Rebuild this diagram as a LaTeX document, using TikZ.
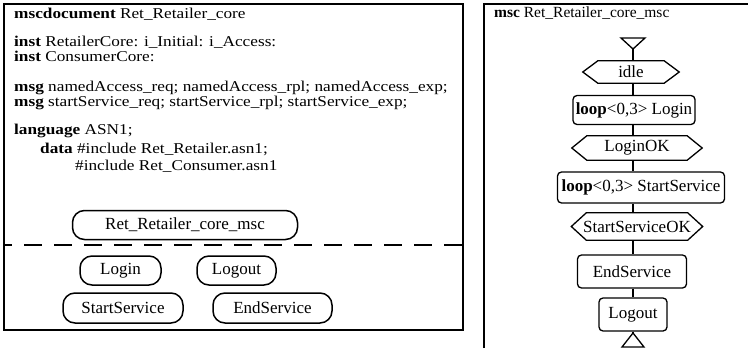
\documentclass[tikz,border=0pt]{standalone}
\usepackage{fontspec}
\setmainfont{Liberation Serif}
\newfontfamily\widefont[FakeStretch=1.15]{Liberation Serif}
\newcommand\hexframe[1]{\draw[conn] (#1.west) -- ([xshift=15pt]#1.north west) -- ([xshift=-15pt]#1.north east) -- (#1.east) -- ([xshift=-15pt]#1.south east) -- ([xshift=15pt]#1.south west) -- cycle;}
\begin{document}
\begin{tikzpicture}[x=1pt,y=-1pt,
  frame/.style={line width=1.1pt},
  lt/.style={anchor=base west, inner sep=0pt, font=\widefont\fontsize{15}{15}\selectfont},
  oval/.style={draw, line width=1.5pt, rounded corners=12pt, minimum height=29pt, inner sep=0pt, font=\fontsize{17}{17}\selectfont},
  rbox/.style={draw, line width=1.3pt, rounded corners=4pt, minimum height=30pt, inner sep=0pt, font=\fontsize{17}{17}\selectfont},
  hexn/.style={minimum height=24pt, inner sep=0pt, font=\fontsize{17}{17}\selectfont},
  conn/.style={line width=1.3pt}
]
\useasboundingbox (0,0) rectangle (748,356);
% left document frame
\draw[frame] (4,4) rectangle (463,330);
\draw[frame, dash pattern=on 18pt off 12pt, dash phase=10pt] (4,245) -- (463,245);
% right msc frame
\draw[frame] (484,348) -- (484,4) -- (749,4);

% left texts
\node[lt] (t1) at (14,18) {\textbf{mscdocument} Ret\_Retailer\_core};
\node[lt] (t2) at (14,46) {\textbf{inst} RetailerCore: i\_Initial: i\_Access:};
\node[lt] (t3) at (14,61) {\textbf{inst} ConsumerCore:};
\node[lt] (t4) at (14,91) {\textbf{msg} namedAccess\_req; namedAccess\_rpl; namedAccess\_exp;};
\node[lt] (t5) at (14,106) {\textbf{msg} startService\_req; startService\_rpl; startService\_exp;};
\node[lt] (t6) at (14,134) {\textbf{language} ASN1;};
\node[lt] (t7) at (40,153) {\textbf{data} \#include Ret\_Retailer.asn1;};
\node[lt] (t8) at (75,170) {\#include Ret\_Consumer.asn1};

% left references
\node[oval, minimum width=225pt] (core) at (185,225) {Ret\_Retailer\_core\_msc};
\node[oval, minimum width=81pt] (login) at (120.5,270.5) {Login};
\node[oval, minimum width=79pt] (logout) at (236.5,270.5) {Logout};
\node[oval, minimum width=120pt, minimum height=30pt] (start) at (123,308) {StartService};
\node[oval, minimum width=119pt, minimum height=30pt] (endsvc) at (272.5,308) {EndService};

% right panel
\node[lt, font=\fontsize{15.5}{15.5}\selectfont] (t9) at (494,17) {\textbf{msc} Ret\_Retailer\_core\_msc};

\coordinate (tri1) at (633,49);
\draw[conn] (621,38) -- (645,38) -- (tri1) -- cycle;

\node[hexn, minimum width=96pt, minimum height=22pt] (idle) at (631,72) {idle};
\hexframe{idle}
\node[rbox, minimum width=122pt, minimum height=29pt] (loop1) at (634,110) {\textbf{loop}<0,3> Login};
\node[hexn, minimum width=130pt] (lok) at (637,148) {LoginOK};
\hexframe{lok}
\node[rbox, minimum width=167pt, minimum height=31pt] (loop2) at (641,187.5) {\textbf{loop}<0,3> StartService};
\node[hexn, minimum width=131pt, minimum height=27pt] (sok) at (637,226.5) {StartServiceOK};
\hexframe{sok}
\node[rbox, minimum width=109pt, minimum height=33pt] (es) at (632,271.5) {EndService};
\node[rbox, minimum width=68pt, minimum height=33pt] (lo) at (633,314.5) {Logout};

\coordinate (tri2) at (633,333);
\draw[conn] (tri2) -- (644,347) -- (622,347) -- cycle;

\draw[conn] (tri1) -- (idle.north -| tri1);
\draw[conn] (idle.south -| tri1) -- (loop1.north -| tri1);
\draw[conn] (loop1.south -| tri1) -- (lok.north -| tri1);
\draw[conn] (lok.south -| tri1) -- (loop2.north -| tri1);
\draw[conn] (loop2.south -| tri1) -- (sok.north -| tri1);
\draw[conn] (sok.south -| tri1) -- (es.north -| tri1);
\draw[conn] (es.south -| tri1) -- (lo.north -| tri1);
\draw[conn] (lo.south -| tri1) -- (tri2);
\end{tikzpicture}
\end{document}
